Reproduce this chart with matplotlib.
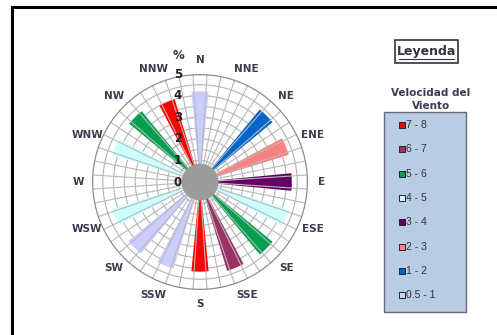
import numpy as np
import matplotlib
matplotlib.use("Agg")
from matplotlib import pyplot as plt
from matplotlib.patches import Rectangle
from matplotlib.lines import Line2D
from matplotlib.transforms import offset_copy

W, H = 497, 335

directions = ['N', 'NNE', 'NE', 'ENE', 'E', 'ESE', 'SE', 'SSE',
              'S', 'SSW', 'SW', 'WSW', 'W', 'WNW', 'NW', 'NNW']
freq = [4.2, 0, 4.35, 4.3, 4.25, 4.3, 4.35, 4.3,
        4.15, 4.2, 4.3, 4.25, 0, 4.25, 4.25, 4.0]
speed_class = ['0.5 - 1', None, '1 - 2', '2 - 3', '3 - 4', '4 - 5', '5 - 6', '6 - 7',
               '7 - 8', '0.5 - 1', '0.5 - 1', '4 - 5', None, '4 - 5', '5 - 6', '7 - 8']
classes = ['7 - 8', '6 - 7', '5 - 6', '4 - 5', '3 - 4', '2 - 3', '1 - 2', '0.5 - 1']
class_colors = ['#ff0000', '#993366', '#00a050', '#ccffff',
                '#660066', '#ff8080', '#0066cc', '#ccccff']
r_ticks = [0, 1, 2, 3, 4, 5]

color_of = dict(zip(classes, class_colors))


def px(x, y):
    return x / W, 1 - y / H


fig = plt.figure(figsize=(W / 100, H / 100), dpi=100)

# outer frame (only top/left visible in the crop)
fig.add_artist(Line2D([12 / W, 12 / W], [0, 1 - 7 / H], color='black', lw=2.2,
                      transform=fig.transFigure))
fig.add_artist(Line2D([12 / W, 1], [1 - 7 / H, 1 - 7 / H], color='black', lw=2.2,
                      transform=fig.transFigure))

cx, cy, R = 200, 182, 108
ax = fig.add_axes([(cx - R) / W, (H - cy - R) / H, 2 * R / W, 2 * R / H],
                  projection='polar')
ax.set_theta_zero_location('N')
ax.set_theta_direction(-1)
ax.set_ylim(0, 5)
ax.set_axis_off()

th = np.linspace(0, 2 * np.pi, 400)
for r in np.arange(0.5, 5.0, 0.5):
    ax.plot(th, np.full_like(th, r), color='#b4b4b4', lw=0.8, zorder=1)
ax.plot(th, np.full_like(th, 5), color='#8c8c8c', lw=1.8, zorder=4)

angles = np.deg2rad(np.arange(16) * 22.5)
for a, v, c in zip(angles, freq, speed_class):
    if c is None or v == 0:
        continue
    ax.bar(a, v, width=np.deg2rad(11), bottom=0, color=color_of[c],
           edgecolor='none', zorder=2)

for s in np.deg2rad(np.arange(3.75, 360, 7.5)):
    ax.plot([s, s], [0, 5], color='#b8b8b8', lw=0.8, zorder=3)

ax.bar(0, 0.85, width=2 * np.pi, bottom=0, color='#9b9b9b', zorder=5)

# radial labels
lab_tr = offset_copy(ax.transData, fig=fig, x=-22, y=0, units='dots')
for t in r_ticks:
    ax.text(0, t, str(t), transform=lab_tr, ha='center', va='center',
            fontsize=8.5, fontweight='bold', color='#222222', zorder=6)
ax.text(0, 5.85, '%', transform=lab_tr, ha='center', va='center',
        fontsize=8.5, fontweight='bold', color='#333344', zorder=6)

for a, d in zip(angles, directions):
    ax.text(a, 5.65, d, ha='center', va='center', fontsize=7.5,
            fontweight='bold', color='#3c3c50', clip_on=False)

# legend
fig.add_artist(Rectangle(px(395, 63), 63 / W, 23 / H, transform=fig.transFigure,
                         facecolor='white', edgecolor='#333333', lw=1.2))
fig.text(*px(426.5, 51), 'Leyenda', ha='center', va='center', fontsize=9,
         fontweight='bold', color='#333344')
fig.add_artist(Line2D([399 / W, 454 / W], [1 - 58.5 / H, 1 - 58.5 / H], color='#333344',
                      lw=0.8, transform=fig.transFigure))
fig.text(*px(431, 93), 'Velocidad del', ha='center', va='center',
         fontsize=7.5, fontweight='bold', color='#3a3a55')
fig.text(*px(431, 106), 'Viento', ha='center', va='center',
         fontsize=7.5, fontweight='bold', color='#3a3a55')

fig.add_artist(Rectangle(px(384, 312), 82 / W, 200 / H, transform=fig.transFigure,
                         facecolor='#b8cce4', edgecolor='#6a6a7a', lw=1.0))
for i, (c, col) in enumerate(zip(classes, class_colors)):
    y = 125 + i * 24.3
    fig.add_artist(Rectangle(px(399, y + 3), 6 / W, 6 / H, transform=fig.transFigure,
                             facecolor=col, edgecolor='#222222', lw=0.7))
    fig.text(*px(406, y), c, ha='left', va='center', fontsize=7.5,
             family='Liberation Sans', color='#333333')

fig.savefig('out.png', dpi=100)
